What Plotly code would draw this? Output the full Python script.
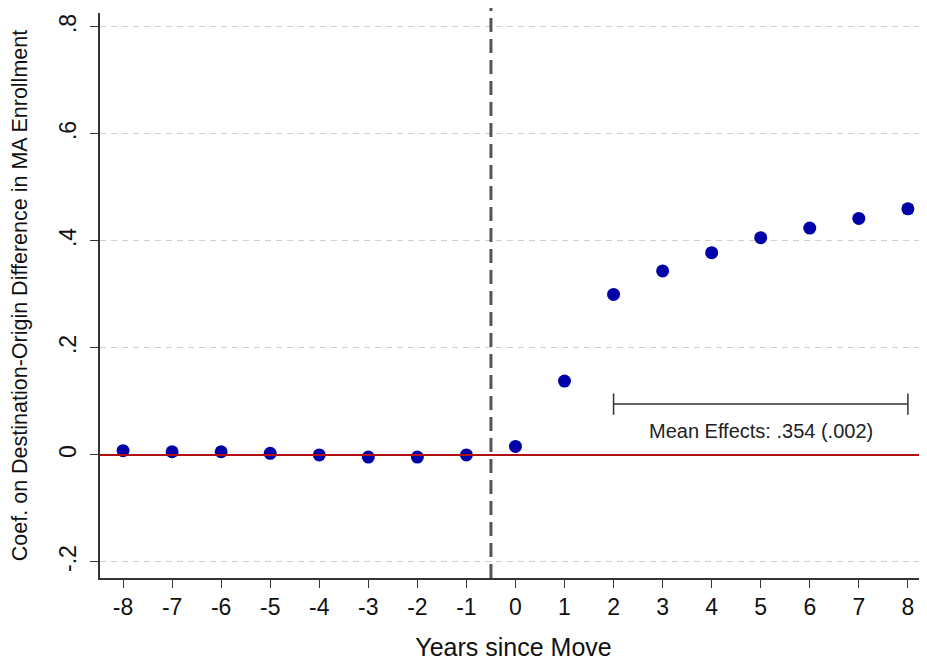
import plotly.graph_objects as go

# Event-study coefficients
years = [-8, -7, -6, -5, -4, -3, -2, -1, 0, 1, 2, 3, 4, 5, 6, 7, 8]
year_labels = ["-8", "-7", "-6", "-5", "-4", "-3", "-2", "-1", "0",
               "1", "2", "3", "4", "5", "6", "7", "8"]
coef = [0.008, 0.006, 0.006, 0.003, 0.000, -0.004, -0.004, 0.000, 0.016,
        0.138, 0.300, 0.344, 0.378, 0.406, 0.424, 0.442, 0.460]
ci_half = [0.003, 0.003, 0.003, 0.003, 0.003, 0.003, 0.003, 0.003, 0.003,
           0.003, 0.003, 0.003, 0.003, 0.003, 0.004, 0.005, 0.007]

y_ticks = [-0.2, 0, 0.2, 0.4, 0.6, 0.8]
y_tick_text = ["-.2", "0", ".2", ".4", ".6", ".8"]

mean_span = [2, 8]
mean_label = "Mean Effects: .354 (.002)"

blue = "#0000a8"
font = "Liberation Sans, Arial, sans-serif"

fig = go.Figure()
fig.add_trace(go.Scatter(
    x=years, y=coef, mode="markers",
    marker=dict(color=blue, size=13),
    error_y=dict(type="data", array=ci_half, color=blue, thickness=2, width=5),
    showlegend=False,
))

# zero line
fig.add_hline(y=0, line=dict(color="#b01010", width=2))
# treatment timing
fig.add_shape(type="line", xref="x", yref="paper", x0=-0.5, x1=-0.5, y0=0, y1=1.016,
              line=dict(color="#555555", width=3, dash="14px,7px"))

# mean effect bracket
yb = 0.095
fig.add_shape(type="line", x0=mean_span[0], x1=mean_span[1], y0=yb, y1=yb,
              line=dict(color="#333333", width=1.5))
for xc in mean_span:
    fig.add_shape(type="line", x0=xc, x1=xc, y0=yb - 0.02, y1=yb + 0.02,
                  line=dict(color="#333333", width=1.5))
fig.add_annotation(x=sum(mean_span) / 2, y=0.045, text=mean_label, showarrow=False,
                   font=dict(size=20, color="#222222", family=font))

# page body keeps an 8px margin, so the figure is 8px smaller than the window
fig.update_layout(
    width=919, height=653,
    margin=dict(l=92, r=0, t=5, b=83),
    plot_bgcolor="white", paper_bgcolor="white",
    font=dict(family=font, color="#111111"),
    xaxis=dict(
        range=[-8.47, 8.39], tickmode="array", tickvals=years, ticktext=year_labels,
        ticks="outside", ticklen=8, tickcolor="#333333",
        showline=True, linecolor="#333333", linewidth=1.5,
        showgrid=False, zeroline=False,
        tickfont=dict(size=23),
        title=dict(text="Years since Move", font=dict(size=25), standoff=20),
    ),
    yaxis=dict(
        range=[-0.230, 0.826], tickmode="array", tickvals=y_ticks, ticktext=y_tick_text,
        ticks="outside", ticklen=8, tickcolor="#333333", tickangle=-90,
        ticklabelstandoff=5,
        showline=True, linecolor="#333333", linewidth=1.5,
        showgrid=True, gridcolor="#cfcfcf", griddash="6px,5px", gridwidth=1,
        zeroline=False,
        tickfont=dict(size=23),
        title=dict(text="Coef. on Destination-Origin Difference in MA Enrollment",
                   font=dict(size=21.5), standoff=26),
    ),
)

fig.write_html("out.html")
